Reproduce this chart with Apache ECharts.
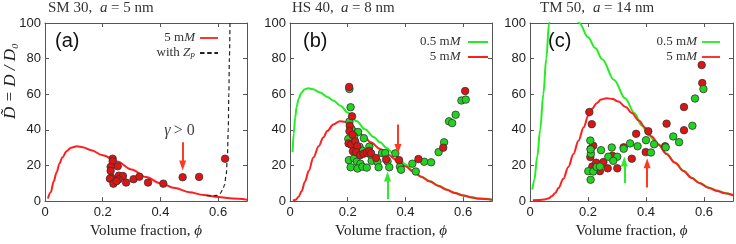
<!DOCTYPE html>
<html><head><meta charset="utf-8">
<script src="https://cdn.jsdelivr.net/npm/echarts@6/dist/echarts.min.js"></script>
<style>html,body{margin:0;padding:0;background:#fff}#c{width:736px;height:244px}</style>
</head><body><div id="c"></div>
<script>
// ---------- data ----------
const xTicks = [0, 0.2, 0.4, 0.6];
const yTicks = [0, 20, 40, 60, 80, 100];
const panelTitles = [['SM 30,  ', 'a', ' = 5 nm'], ['HS 40,  ', 'a', ' = 8 nm'], ['TM 50,  ', 'a', ' = 14 nm']];
const panelLetters = ['(a)', '(b)', '(c)'];

// panel (a) SM 30
const curveA_5mM = [[0.01,1.5],[0.02,5],[0.03,11],[0.04,16],[0.05,21],[0.06,24.5],[0.075,28],[0.09,30],[0.11,30.8],[0.13,30.3],[0.16,28.5],[0.2,25.8],[0.25,22.3],[0.3,17.8],[0.35,13.5],[0.4,10],[0.45,7.3],[0.5,5],[0.55,3.4],[0.6,2.3],[0.65,1.4],[0.7,0.8]];
const curveA_Zp = [[0.56,3.0],[0.58,2.9],[0.595,3.2],[0.605,4],[0.615,6],[0.622,9],[0.628,15],[0.632,25],[0.635,40],[0.637,60],[0.639,80],[0.641,100]];
const dotsA_red = [[0.2345,23.8],[0.2345,22.3],[0.252,19.6],[0.2275,19.2],[0.2275,17.0],[0.256,14.3],[0.27,14.1],[0.23,13.2],[0.225,12.6],[0.255,12.2],[0.237,9.8],[0.248,11.2],[0.281,10.4],[0.307,12.3],[0.327,13.7],[0.357,10.4],[0.41,9.8],[0.477,13.4],[0.534,13.6],[0.624,23.8]];

// panel (b) HS 40
const curveB_05mM = [[0.009,27.5],[0.013,38],[0.018,47],[0.023,53],[0.03,57.5],[0.04,61],[0.05,62.7],[0.063,63.3],[0.08,62.8],[0.104,61],[0.13,58.5],[0.15,56.5],[0.175,53.5],[0.2,49.8],[0.23,45],[0.26,40.3],[0.29,36],[0.312,33],[0.335,29.8],[0.358,26.5],[0.38,23.5],[0.4,20.5],[0.427,16.8],[0.455,13.8],[0.485,11.1],[0.515,8.6],[0.543,6.5],[0.57,4.7],[0.601,3.2],[0.63,2.1],[0.658,1.4],[0.7,0.8]];
const curveB_5mM = [[0.01,0.3],[0.02,0.8],[0.03,2.5],[0.04,5.5],[0.052,11],[0.065,17],[0.081,24.5],[0.1,31],[0.115,35.7],[0.13,39.5],[0.15,43],[0.173,44.9],[0.19,44.5],[0.208,43],[0.23,40.2],[0.254,36.6],[0.28,33],[0.312,29.3],[0.34,26],[0.37,22.9],[0.4,19.5],[0.427,16.5],[0.455,13.6],[0.485,11],[0.515,8.5],[0.543,6.4],[0.57,4.6],[0.601,3.1],[0.63,2],[0.658,1.3],[0.7,0.7]];
const dotsB_green = [[0.206,62.9],[0.21,52.7],[0.206,44.6],[0.213,40.5],[0.236,38.8],[0.202,34.9],[0.222,36.3],[0.256,35.3],[0.275,30.6],[0.241,30.5],[0.25,28.3],[0.229,29.4],[0.204,23],[0.222,24],[0.21,19],[0.232,22.2],[0.244,21],[0.234,18.3],[0.251,19.3],[0.266,18.8],[0.283,22.6],[0.279,26.2],[0.303,22],[0.307,19],[0.319,27],[0.33,27],[0.338,22.3],[0.344,19],[0.365,26.8],[0.381,19.3],[0.385,17.6],[0.424,21],[0.436,16.6],[0.465,22.1],[0.489,21.8],[0.515,27.5],[0.534,33],[0.551,44.8],[0.562,43.8],[0.574,48.5],[0.594,56.5],[0.609,57]];
const dotsB_red = [[0.205,64.1],[0.215,47.6],[0.207,42.3],[0.206,39.2],[0.217,37.3],[0.203,32.4],[0.212,31.7],[0.226,33.5],[0.233,30.8],[0.218,28],[0.229,27.5],[0.243,25.8],[0.255,26.6],[0.266,27.3],[0.274,28.2],[0.281,26.8],[0.298,24.2],[0.333,23.4],[0.378,23],[0.445,23.6],[0.531,30],[0.607,61.8]];

// panel (c) TM 50
const curveC_05mM = [[0.008,6.4],[0.015,12],[0.025,25],[0.035,40],[0.046,60],[0.056,80],[0.066,100],[0.08,115],[0.1,122],[0.12,120],[0.145,112],[0.17,100],[0.2,92],[0.225,86],[0.249,79.7],[0.29,68],[0.328,57.7],[0.36,49.5],[0.385,42.5],[0.41,36.8],[0.43,33.8],[0.443,31.9],[0.47,26.7],[0.5,21.7],[0.53,17],[0.557,13.2],[0.585,10.2],[0.615,7.7],[0.645,5.9],[0.672,4.6],[0.7,3.5]];
const curveC_5mM = [[0.01,0.5],[0.03,0.6],[0.05,0.9],[0.065,1.6],[0.075,2.7],[0.087,4.5],[0.098,7.3],[0.115,12.5],[0.132,19.2],[0.15,26.5],[0.167,33.9],[0.185,41.5],[0.201,48],[0.215,52],[0.23,55],[0.245,57],[0.264,57.8],[0.285,57.3],[0.305,55.9],[0.33,52.8],[0.351,49.5],[0.375,45.3],[0.397,41.2],[0.42,36.3],[0.443,31.7],[0.47,26.5],[0.5,21.5],[0.53,16.8],[0.557,13],[0.585,10],[0.615,7.5],[0.645,5.7],[0.672,4.4],[0.7,3.3]];
const dotsC_green = [[0.201,16.8],[0.209,12],[0.208,34],[0.21,26.6],[0.209,29],[0.218,16.6],[0.23,19.2],[0.241,19.4],[0.245,28.6],[0.27,24.9],[0.282,30.1],[0.301,24.9],[0.287,22.6],[0.323,29.4],[0.345,32.4],[0.371,30.8],[0.4,34.2],[0.417,27.3],[0.428,31.9],[0.468,30.2],[0.494,36.3],[0.514,33.1],[0.56,42.3],[0.569,57.6],[0.598,62.9]];
const dotsC_red = [[0.2046,50],[0.213,43.2],[0.218,31.1],[0.209,29.3],[0.208,24.7],[0.215,19.4],[0.228,21.6],[0.241,16.8],[0.253,21.9],[0.268,18.4],[0.284,25.5],[0.301,18.4],[0.323,30.2],[0.351,23.8],[0.366,37.8],[0.399,27.5],[0.408,39.2],[0.466,30.8],[0.471,43.5],[0.531,39.8],[0.531,52.8],[0.594,66.3],[0.592,76.4]];

// arrows: [phi, from D, to D]
const arrowA_red = [0.477, 33, 20];
const arrowB_red = [0.374, 43, 29.3];
const arrowB_green = [0.338, 1, 13.8];
const arrowC_green = [0.325, 10, 22.3];
const arrowC_red = [0.404, 7.7, 21.3];
const gammaLabelPos = [0.466, 39.5];

// ---------- styling ----------
const RED = '#ff1e1e', GREEN = '#22ee22', RED_ARROW = '#ff3a22', GREEN_ARROW = '#33e833';
const RED_DOT = '#dd1414', GREEN_DOT = '#22d422';
const SERIF = '"Liberation Serif", "DejaVu Serif", serif';
const SANS = '"Liberation Sans", Arial, sans-serif';
const AX = '#555';
const grids = [
  {left: 45, top: 23, width: 202, height: 182},
  {left: 290, top: 23, width: 202, height: 182},
  {left: 530, top: 23, width: 203, height: 182}
];

function xAxesFor(i) {
  const base = {type: 'value', gridIndex: i, min: 0, max: 0.7, interval: 0.2,
    splitLine: {show: false},
    axisLine: {show: true, onZero: false, lineStyle: {color: AX, width: 1}},
    axisTick: {show: true, inside: true, length: 4, lineStyle: {color: AX}}};
  return [
    Object.assign({}, base, {position: 'bottom',
      axisLabel: {color: '#222', fontFamily: SANS, fontSize: 13, margin: 5,
        formatter: v => { const t = xTicks.find(t => Math.abs(t - v) < 1e-9); return t === undefined ? '' : (t === 0 ? '0' : t.toFixed(1)); }},
      name: 'Volume fraction, {i|\u03D5}', nameLocation: 'middle', nameGap: 21,
      nameTextStyle: {fontFamily: SERIF, fontSize: 15, color: '#222',
        rich: {i: {fontFamily: SERIF, fontSize: 15, fontStyle: 'italic', color: '#222'}}}}),
    Object.assign({}, base, {position: 'top', axisLabel: {show: false}})
  ];
}
function yAxesFor(i) {
  const base = {type: 'value', gridIndex: i, min: 0, max: 100, interval: 20,
    splitLine: {show: false},
    axisLine: {show: true, onZero: false, lineStyle: {color: AX, width: 1}},
    axisTick: {show: true, inside: true, length: 4, lineStyle: {color: AX}}};
  return [
    Object.assign({}, base, {position: 'left',
      axisLabel: {color: '#222', fontFamily: SANS, fontSize: 13, margin: 4,
        formatter: v => yTicks.indexOf(v) >= 0 ? String(v) : ''}}),
    Object.assign({}, base, {position: 'right', axisLabel: {show: false}})
  ];
}
function curve(name, data, color, p, width, dashed) {
  return {type: 'line', name, data, xAxisIndex: 2 * p, yAxisIndex: 2 * p,
    symbol: 'none', smooth: 0.35, smoothMonotone: 'x', clip: true, silent: true,
    lineStyle: {color, width, type: dashed ? [4, 3] : 'solid'}, itemStyle: {color}, z: 2};
}
function dots(name, data, color, p) {
  return {type: 'scatter', name, data, xAxisIndex: 2 * p, yAxisIndex: 2 * p,
    symbol: 'circle', symbolSize: 7.5, silent: true,
    itemStyle: {color, borderColor: '#333', borderWidth: 0.8, opacity: 1}, z: 3};
}
function arrow(a, color) {
  return {silent: true, symbol: ['none', 'triangle'], symbolSize: [7, 10], animation: false,
    label: {show: false}, lineStyle: {color, width: 2, type: 'solid'}, itemStyle: {color},
    data: [[{coord: [a[0], a[1]]}, {coord: [a[0], a[2]]}]]};
}

const s = [];
// panel a
const sa = curve('5 mM a', curveA_5mM, RED, 0, 2, false);
sa.markLine = arrow(arrowA_red, RED_ARROW);
sa.markPoint = {silent: true, symbol: 'rect', symbolSize: 1, itemStyle: {color: 'rgba(0,0,0,0)'},
  label: {show: true, position: 'inside', formatter: '{g|γ} {n|> 0}',
    rich: {g: {fontFamily: SERIF, fontSize: 16, fontStyle: 'italic', color: '#444'},
           n: {fontFamily: SERIF, fontSize: 16, color: '#444'}}},
  data: [{coord: gammaLabelPos}]};
s.push(sa);
s.push(curve('with Zp a', curveA_Zp, '#222', 0, 1.2, true));
s.push(dots('dotsA', dotsA_red, RED_DOT, 0));
// panel b
const sbg = curve('0.5 mM b', curveB_05mM, GREEN, 1, 2, false);
sbg.markLine = arrow(arrowB_green, GREEN_ARROW);
s.push(sbg);
const sbr = curve('5 mM b', curveB_5mM, RED, 1, 2, false);
sbr.markLine = arrow(arrowB_red, RED_ARROW);
s.push(sbr);
s.push(dots('dotsBg', dotsB_green, GREEN_DOT, 1));
s.push(dots('dotsBr', dotsB_red, RED_DOT, 1));
// panel c
const scg = curve('0.5 mM c', curveC_05mM, GREEN, 2, 2, false);
scg.markLine = arrow(arrowC_green, GREEN_ARROW);
s.push(scg);
const scr = curve('5 mM c', curveC_5mM, RED, 2, 2, false);
scr.markLine = arrow(arrowC_red, RED_ARROW);
s.push(scr);
s.push(dots('dotsCr', dotsC_red, RED_DOT, 2));
s.push(dots('dotsCg', dotsC_green, GREEN_DOT, 2));

const legendNames = {'5 mM a': '5 m{i|M}', 'with Zp a': 'with {i|Z}{s|P}', '0.5 mM b': '0.5 m{i|M}', '5 mM b': '5 m{i|M}', '0.5 mM c': '0.5 m{i|M}', '5 mM c': '5 m{i|M}'};
const SOLID_ICON = 'path://M0,0H20V2H0Z';
const DASH_ICON = 'path://M0,0H5V2H0ZM8,0H13V2H8ZM16,0H20V2H16Z';
const legTxt = {fontFamily: SERIF, fontSize: 13, color: '#333', lineHeight: 14,
  rich: {i: {fontFamily: SERIF, fontSize: 13, fontStyle: 'italic', color: '#333'},
         s: {fontFamily: SERIF, fontSize: 8, fontStyle: 'italic', color: '#333', padding: [7, 0, 0, 0]}}};
function legend(names, right, top, w) {
  return {data: names.map(n => ({name: n, icon: n.indexOf('Zp') >= 0 ? DASH_ICON : SOLID_ICON})),
    right, top, orient: 'vertical', align: 'right', itemWidth: w, itemHeight: 2, itemGap: 1,
    padding: 0, selectedMode: false, formatter: n => legendNames[n], textStyle: legTxt};
}

// titles: plain text pieces placed one after another using measured widths
const measureCtx = document.createElement('canvas').getContext('2d');
function textW(str, italic) {
  measureCtx.font = (italic ? 'italic ' : '') + '15px ' + SERIF;
  return measureCtx.measureText(str).width;
}
const graphic = [];
const titleX = [48, 292, 540];
panelTitles.forEach((t, i) => {
  let x = titleX[i];
  t.forEach((part, k) => {
    const it = k === 1;
    const lead = part.length - part.replace(/^\s+/, '').length;
    const leadW = lead ? textW(part.slice(0, lead), it) : 0;
    graphic.push({type: 'text', left: Math.round(x + leadW), top: 1, silent: true, style: {text: part.trim(), fontFamily: SERIF, fontSize: 15,
      fontStyle: it ? 'italic' : 'normal', fill: '#333'}});
    x += textW(part, it);
  });
});
const letterX = [55, 303, 548];
panelLetters.forEach((t, i) => {
  graphic.push({type: 'text', left: letterX[i], top: 31, silent: true, style: {text: t, fontFamily: SANS, fontSize: 20, fill: '#111'}});
});
graphic.push({type: 'text', left: 2, top: 43, rotation: Math.PI / 2, silent: true, style: {
  text: 'D\u0303 = D / D\u2080', fill: '#222', fontFamily: SERIF, fontSize: 17, fontStyle: 'italic'}});

const chart = echarts.init(document.getElementById('c'), null, {renderer: 'canvas'});
chart.setOption({
  animation: false,
  backgroundColor: '#fff',
  grid: grids,
  xAxis: [].concat(xAxesFor(0), xAxesFor(1), xAxesFor(2)),
  yAxis: [].concat(yAxesFor(0), yAxesFor(1), yAxesFor(2)),
  legend: [legend(['5 mM a', 'with Zp a'], 518, 31, 18), legend(['0.5 mM b', '5 mM b'], 248, 35, 25), legend(['0.5 mM c', '5 mM c'], 16, 35, 18)],
  graphic,
  series: s
});
</script></body></html>
